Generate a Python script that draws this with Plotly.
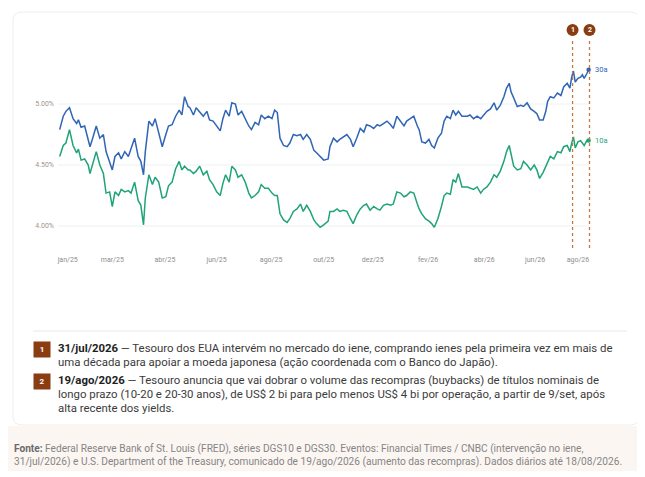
import plotly.graph_objects as go

# rendimento diario dos Treasuries, 02/01/2025 a 18/08/2026
datas = [
    "2025-01-02", "2025-01-06", "2025-01-09", "2025-01-13", "2025-01-17", "2025-01-21", "2025-01-23",
    "2025-01-26", "2025-01-30", "2025-02-03", "2025-02-05", "2025-02-08", "2025-02-12", "2025-02-16",
    "2025-02-20", "2025-02-23", "2025-02-27", "2025-03-02", "2025-03-05", "2025-03-09", "2025-03-12",
    "2025-03-16", "2025-03-20", "2025-03-23", "2025-03-27", "2025-03-31", "2025-04-03", "2025-04-06",
    "2025-04-08", "2025-04-12", "2025-04-16", "2025-04-19", "2025-04-23", "2025-04-27", "2025-05-01",
    "2025-05-04", "2025-05-08", "2025-05-12", "2025-05-16", "2025-05-19", "2025-05-22", "2025-05-26",
    "2025-05-28", "2025-06-01", "2025-06-04", "2025-06-08", "2025-06-12", "2025-06-16", "2025-06-19",
    "2025-06-23", "2025-06-27", "2025-07-01", "2025-07-04", "2025-07-07", "2025-07-11", "2025-07-14",
    "2025-07-18", "2025-07-21", "2025-07-25", "2025-07-29", "2025-08-02", "2025-08-05", "2025-08-09",
    "2025-08-13", "2025-08-16", "2025-08-20", "2025-08-24", "2025-08-28", "2025-08-31", "2025-09-03",
    "2025-09-06", "2025-09-10", "2025-09-14", "2025-09-17", "2025-09-21", "2025-09-25", "2025-09-29",
    "2025-10-02", "2025-10-06", "2025-10-10", "2025-10-14", "2025-10-17", "2025-10-21", "2025-10-25",
    "2025-10-30", "2025-11-01", "2025-11-05", "2025-11-09", "2025-11-12", "2025-11-16", "2025-11-20",
    "2025-11-24", "2025-11-27", "2025-12-01", "2025-12-05", "2025-12-09", "2025-12-12", "2025-12-16",
    "2025-12-20", "2025-12-24", "2025-12-27", "2025-12-31", "2026-01-04", "2026-01-08", "2026-01-11",
    "2026-01-15", "2026-01-19", "2026-01-23", "2026-01-26", "2026-01-30", "2026-02-03", "2026-02-07",
    "2026-02-09", "2026-02-12", "2026-02-16", "2026-02-20", "2026-02-23", "2026-02-26", "2026-03-02",
    "2026-03-06", "2026-03-09", "2026-03-12", "2026-03-16", "2026-03-19", "2026-03-22", "2026-03-25",
    "2026-03-29", "2026-04-04", "2026-04-07", "2026-04-11", "2026-04-15", "2026-04-19", "2026-04-22",
    "2026-04-26", "2026-04-30", "2026-05-04", "2026-05-07", "2026-05-11", "2026-05-15", "2026-05-18",
    "2026-05-21", "2026-05-23", "2026-05-26", "2026-05-30", "2026-06-03", "2026-06-06", "2026-06-10",
    "2026-06-14", "2026-06-18", "2026-06-21", "2026-06-24", "2026-06-28", "2026-07-01", "2026-07-03",
    "2026-07-06", "2026-07-10", "2026-07-14", "2026-07-18", "2026-07-21", "2026-07-25", "2026-07-28",
    "2026-07-30", "2026-08-01", "2026-08-03", "2026-08-06", "2026-08-09", "2026-08-11", "2026-08-13",
    "2026-08-16", "2026-08-18",
]

juros_30a = [
    4.79, 4.90, 4.94, 4.97, 4.88, 4.84, 4.87, 4.81, 4.82, 4.72, 4.65, 4.72, 4.82, 4.72,
    4.75, 4.61, 4.53, 4.46, 4.57, 4.60, 4.55, 4.61, 4.57, 4.64, 4.72, 4.57, 4.53, 4.42,
    4.61, 4.86, 4.82, 4.88, 4.77, 4.65, 4.75, 4.82, 4.83, 4.90, 4.95, 4.91, 5.06, 4.98,
    4.97, 4.91, 4.97, 4.93, 4.90, 4.94, 4.87, 4.86, 4.82, 4.78, 4.88, 4.95, 4.90, 5.01,
    5.00, 4.91, 4.94, 4.88, 4.82, 4.79, 4.85, 4.83, 4.91, 4.88, 4.90, 4.88, 4.95, 4.93,
    4.72, 4.66, 4.65, 4.68, 4.75, 4.74, 4.75, 4.71, 4.75, 4.71, 4.62, 4.60, 4.57, 4.54,
    4.55, 4.65, 4.72, 4.69, 4.71, 4.73, 4.75, 4.71, 4.65, 4.72, 4.80, 4.77, 4.83, 4.82,
    4.80, 4.83, 4.82, 4.84, 4.86, 4.83, 4.80, 4.90, 4.86, 4.82, 4.86, 4.88, 4.90, 4.82,
    4.79, 4.69, 4.68, 4.71, 4.66, 4.64, 4.72, 4.76, 4.86, 4.90, 4.88, 4.95, 4.91, 4.94,
    4.90, 4.90, 4.91, 4.88, 4.90, 4.88, 4.91, 4.94, 4.96, 5.01, 4.95, 4.99, 5.06, 5.13,
    5.17, 5.10, 5.05, 4.98, 4.99, 4.98, 5.01, 4.96, 4.94, 4.92, 4.87, 4.87, 4.94, 5.02,
    5.06, 5.05, 5.09, 5.07, 5.14, 5.17, 5.13, 5.22, 5.27, 5.18, 5.21, 5.22, 5.24, 5.21,
    5.25, 5.28,
]

juros_10a = [
    4.57, 4.66, 4.68, 4.79, 4.66, 4.60, 4.63, 4.54, 4.55, 4.50, 4.43, 4.50, 4.61, 4.50,
    4.43, 4.27, 4.28, 4.16, 4.28, 4.25, 4.30, 4.28, 4.29, 4.27, 4.36, 4.21, 4.17, 4.01,
    4.23, 4.42, 4.34, 4.40, 4.36, 4.23, 4.24, 4.33, 4.36, 4.47, 4.53, 4.46, 4.49, 4.46,
    4.46, 4.43, 4.45, 4.49, 4.42, 4.45, 4.38, 4.34, 4.28, 4.25, 4.35, 4.42, 4.36, 4.49,
    4.46, 4.40, 4.42, 4.36, 4.27, 4.23, 4.25, 4.28, 4.34, 4.31, 4.31, 4.27, 4.25, 4.25,
    4.10, 4.05, 4.03, 4.06, 4.12, 4.14, 4.18, 4.12, 4.17, 4.12, 4.05, 4.02, 3.99, 4.01,
    4.04, 4.12, 4.12, 4.14, 4.12, 4.13, 4.12, 4.06, 4.02, 4.09, 4.14, 4.17, 4.18, 4.13,
    4.16, 4.14, 4.13, 4.17, 4.18, 4.17, 4.18, 4.28, 4.27, 4.24, 4.25, 4.28, 4.27, 4.18,
    4.14, 4.10, 4.06, 4.04, 4.02, 3.99, 4.06, 4.16, 4.25, 4.27, 4.26, 4.38, 4.36, 4.43,
    4.32, 4.32, 4.31, 4.30, 4.32, 4.27, 4.30, 4.32, 4.36, 4.42, 4.40, 4.45, 4.53, 4.61,
    4.66, 4.58, 4.49, 4.46, 4.47, 4.53, 4.50, 4.46, 4.50, 4.46, 4.39, 4.44, 4.49, 4.53,
    4.57, 4.55, 4.61, 4.60, 4.65, 4.66, 4.61, 4.68, 4.73, 4.64, 4.69, 4.70, 4.68, 4.66,
    4.70, 4.70,
]

eventos_datas = ["2026-07-31", "2026-08-19"]
eventos_num = ["1", "2"]
eventos_titulo = ["31/jul/2026", "19/ago/2026"]
eventos_linhas = [
    ["Tesouro dos EUA intervém no mercado do iene, comprando ienes pela primeira vez em mais de",
     "uma década para apoiar a moeda japonesa (ação coordenada com o Banco do Japão)."],
    ["Tesouro anuncia que vai dobrar o volume das recompras (buybacks) de títulos nominais de",
     "longo prazo (10-20 e 20-30 anos), de US$ 2 bi para pelo menos US$ 4 bi por operação, a partir de 9/set, após",
     "alta recente dos yields."],
]
fonte_linhas = [
    "<b><span style='color:#6a6a6a'>Fonte:</span></b> Federal Reserve Bank of St. Louis (FRED), séries DGS10 e "
    "DGS30. Eventos: Financial Times / CNBC (intervenção no iene,",
    "31/jul/2026) e U.S. Department of the Treasury, comunicado de 19/ago/2026 (aumento das recompras). "
    "Dados diários até 18/08/2026.",
]

tick_datas = ["2025-01-11", "2025-03-02", "2025-04-30", "2025-06-27", "2025-08-27", "2025-10-25",
              "2025-12-19", "2026-02-19", "2026-04-23", "2026-06-19", "2026-08-06"]
tick_textos = ["jan/25", "mar/25", "abr/25", "jun/25", "ago/25", "out/25",
               "dez/25", "fev/26", "abr/26", "jun/26", "ago/26"]
y_ticks = [4.0, 4.5, 5.0]
y_textos = ["4.00%", "4.50%", "5.00%"]

AZUL = "#3065b6"
VERDE = "#1fa37a"
MARROM = "#8a3d12"
PONTILHADO = "#c8783f"
FONTE = "Roboto"

# area do grafico em pixels da tela (a pagina desloca a figura 8px)
OFF = 8
L, R, T, B = 57, 602, 38, 248
W, H = R - L, B - T


def px(x):
    return (x - L) / W


def py(y):
    return (B - y) / H


fig = go.Figure()

# fundo: faixa rosada da fonte + cartao branco
fig.add_shape(type="rect", xref="paper", yref="paper", x0=px(0), x1=px(660), y0=py(471), y1=py(426),
              fillcolor="#fcf6f3", line=dict(width=0), layer="below")
r = 9
x0c, x1c, y0c, y1c = 13, 639, 12, 425
path = (f"M {px(x0c + r)} {py(y0c)} L {px(x1c - r)} {py(y0c)} Q {px(x1c)} {py(y0c)} {px(x1c)} {py(y0c + r)} "
        f"L {px(x1c)} {py(y1c - r)} Q {px(x1c)} {py(y1c)} {px(x1c - r)} {py(y1c)} "
        f"L {px(x0c + r)} {py(y1c)} Q {px(x0c)} {py(y1c)} {px(x0c)} {py(y1c - r)} "
        f"L {px(x0c)} {py(y0c + r)} Q {px(x0c)} {py(y0c)} {px(x0c + r)} {py(y0c)} Z")
fig.add_shape(type="path", xref="paper", yref="paper", path=path, fillcolor="white",
              line=dict(color="#eeeeee", width=1), layer="below")

# linhas de grade (terminam na ultima data)
for v in y_ticks:
    fig.add_shape(type="line", xref="paper", yref="y", x0=px(58), x1=px(589), y0=v, y1=v,
                  line=dict(color="#eef0f0", width=1), layer="below")

fig.add_trace(go.Scatter(x=datas, y=juros_30a, mode="lines", line=dict(color=AZUL, width=1.5),
                         hoverinfo="skip", showlegend=False))
fig.add_trace(go.Scatter(x=datas, y=juros_10a, mode="lines", line=dict(color=VERDE, width=1.5),
                         hoverinfo="skip", showlegend=False))

# pontos finais + rotulos
fig.add_trace(go.Scatter(x=[datas[-1], datas[-1]], y=[juros_30a[-1], juros_10a[-1]], mode="markers",
                         marker=dict(size=4.5, color=[AZUL, VERDE]), showlegend=False, cliponaxis=False))
fig.add_annotation(x=datas[-1], y=juros_30a[-1], text="30a", showarrow=False, xanchor="left", xshift=4,
                   font=dict(family=FONTE, size=7.5, color=AZUL))
fig.add_annotation(x=datas[-1], y=juros_10a[-1], text="10a", showarrow=False, xanchor="left", xshift=4,
                   font=dict(family=FONTE, size=7.5, color=VERDE))

# linhas dos eventos e marcadores numerados no topo
for d, n in zip(eventos_datas, eventos_num):
    fig.add_shape(type="line", xref="x", yref="paper", x0=d, x1=d, y0=0, y1=1,
                  line=dict(color=PONTILHADO, width=1.3, dash="dot"))
    fig.add_shape(type="circle", xref="x", yref="paper", xsizemode="pixel", ysizemode="pixel",
                  xanchor=d, yanchor=py(30), x0=-6, x1=6, y0=-6, y1=6,
                  fillcolor=MARROM, line=dict(width=0))
    fig.add_annotation(x=d, xref="x", yref="paper", y=py(30), text="<b>" + n + "</b>", showarrow=False,
                       xanchor="center", yanchor="middle", font=dict(family=FONTE, size=7, color="white"))

# separador
fig.add_shape(type="line", xref="paper", yref="paper", x0=px(33), x1=px(627), y0=py(331), y1=py(331),
              line=dict(color="#e9e9e9", width=1))

# notas dos eventos
centros = [348, 380]
for num, tit, linhas, c in zip(eventos_num, eventos_titulo, eventos_linhas, centros):
    fig.add_annotation(xref="paper", yref="paper", x=px(42), y=py(c + 1), text="<b>" + num + "</b>",
                       showarrow=False, xanchor="center", yanchor="middle", bgcolor=MARROM,
                       width=12, height=11, borderpad=2,
                       font=dict(family=FONTE, size=8, color="white"))
    for i, linha in enumerate(linhas):
        if i == 0:
            linha = "<b><span style='color:#1e1e1e'>" + tit + "</span></b> — " + linha
        fig.add_annotation(xref="paper", yref="paper", x=px(56), y=py(c + 14 * i), xanchor="left",
                           yanchor="middle", align="left", showarrow=False, text=linha,
                           font=dict(family=FONTE, size=11.4, color="#3b3b3b"))

# fonte
for i, linha in enumerate(fonte_linhas):
    fig.add_annotation(xref="paper", yref="paper", x=px(12), y=py(449 + 13 * i), xanchor="left",
                       yanchor="middle", align="left", showarrow=False, text=linha,
                       font=dict(family=FONTE, size=10.15, color="#858585"))

fig.update_xaxes(range=["2024-12-30", "2026-09-02"], tickvals=tick_datas, ticktext=tick_textos,
                 showgrid=False, zeroline=False, showline=False, ticks="",
                 tickfont=dict(family=FONTE, size=7, color="#8d8d8d"), ticklabelstandoff=6)
fig.update_yaxes(range=[3.820, 5.541], tickvals=y_ticks, ticktext=y_textos,
                 showgrid=False, zeroline=False, showline=False,
                 tickfont=dict(family=FONTE, size=7, color="#9c958c"), ticklabelstandoff=2)

fig.update_layout(width=645, height=477, autosize=False,
                  margin=dict(l=L - OFF, r=645 - (R - OFF), t=T - OFF, b=477 - (B - OFF)),
                  paper_bgcolor="white", plot_bgcolor="rgba(0,0,0,0)",
                  font=dict(family=FONTE), showlegend=False)

fig.write_html("out.html")
